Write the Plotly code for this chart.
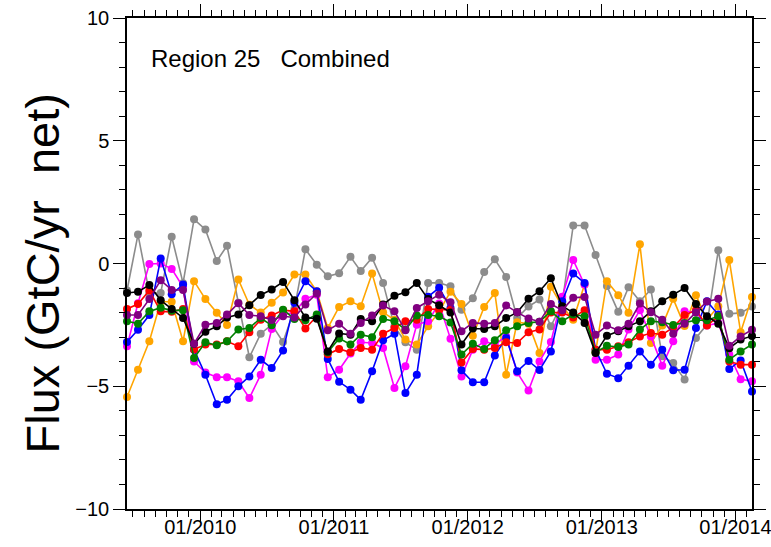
import pandas as pd
import plotly.graph_objects as go

# Monthly net flux, mid-month samples from June 2009 to February 2014
months = pd.date_range("2009-06-01", "2014-02-01", freq="MS") + pd.Timedelta(days=14)

black = [-1.2, -1.15, -0.88, -1.5, -1.85, -2.22, -3.27, -2.78, -2.56, -2.2,
         -2.08, -1.7, -1.28, -1.06, -0.75, -1.5, -2.2, -2.25, -3.58, -2.85,
         -2.9, -2.26, -2.35, -1.67, -1.31, -1.17, -0.79, -1.45, -1.7, -2.0,
         -3.3, -2.65, -2.67, -2.56, -2.22, -1.99, -1.44, -1.13, -0.6, -1.74,
         -2.0, -2.42, -3.65, -2.94, -2.76, -2.56, -2.35, -1.95, -1.54, -1.27,
         -1.0, -1.65, -2.15, -2.45, -3.45, -3.1, -2.95]
red = [-1.85, -1.65, -1.1, -1.95, -1.97, -1.85, -3.5, -3.3, -3.3, -3.17,
       -3.37, -2.8, -2.29, -2.12, -1.9, -1.95, -2.65, -2.15, -3.7, -3.48,
       -3.62, -3.44, -3.51, -2.86, -2.63, -2.35, -2.29, -1.85, -1.88, -1.88,
       -4.03, -3.48, -3.51, -3.44, -3.21, -3.24, -2.8, -2.69, -2.0, -2.0,
       -2.2, -1.9, -3.51, -3.51, -3.37, -3.21, -2.97, -2.83, -2.9, -2.6,
       -2.1, -1.9, -2.53, -2.15, -3.99, -4.12, -4.12]
green = [-2.35, -2.45, -1.95, -1.8, -1.92, -1.9, -3.85, -3.21, -3.33, -3.17,
         -2.69, -2.63, -2.22, -2.52, -1.88, -2.26, -2.31, -2.08, -3.62, -3.05,
         -3.3, -2.9, -3.0, -2.26, -2.35, -2.69, -2.12, -2.1, -2.15, -2.4,
         -3.71, -3.27, -3.48, -3.13, -2.72, -2.56, -2.42, -2.37, -1.95, -2.35,
         -2.08, -2.15, -3.62, -3.35, -3.4, -3.3, -2.69, -2.35, -2.39, -2.5,
         -2.42, -2.31, -2.31, -2.15, -3.92, -3.58, -3.3]
blue = [-3.2, -2.7, -2.1, 0.2, -1.25, -0.86, -3.51, -4.53, -5.73, -5.55,
        -5.0, -4.6, -3.92, -4.26, -3.54, -1.6, -0.72, -1.13, -3.89, -4.82,
        -5.14, -5.55, -4.39, -3.13, -2.86, -5.28, -4.53, -1.35, -0.99, -1.81,
        -4.35, -4.84, -4.84, -3.75, -3.03, -4.39, -3.97, -4.34, -3.58, -1.54,
        -0.41, -0.79, -3.51, -4.49, -4.67, -4.16, -3.58, -4.12, -3.51, -4.35,
        -4.33, -2.63, -1.54, -2.08, -4.3, -3.95, -5.21]
magenta = [-3.37, -1.62, -0.02, 0.0, -0.22, -0.96, -3.99, -4.44, -4.63, -4.63,
           -4.8, -5.48, -4.53, -2.67, -2.08, -2.0, -1.44, -1.27, -4.63, -4.33,
           -3.67, -3.21, -3.24, -3.44, -5.07, -4.19, -2.49, -2.35, -1.63, -3.07,
           -4.6, -3.51, -3.17, -3.3, -2.97, -4.44, -5.17, -3.99, -3.2, -1.35,
           0.14, -0.86, -3.92, -3.92, -3.71, -2.69, -1.9, -2.97, -4.16, -3.17,
           -1.95, -2.0, -2.53, -2.42, -3.71, -4.71, -4.8]
orange = [-5.44, -4.33, -3.17, -1.56, -1.56, -3.17, -0.72, -1.45, -2.01, -2.5,
          -0.65, -1.68, -2.0, -1.6, -1.18, -0.45, -0.45, -1.13, -2.63, -1.77,
          -1.54, -1.74, -0.41, -1.99, -2.29, -3.1, -3.3, -2.56, -1.95, -1.15,
          -1.65, -2.94, -1.77, -1.2, -4.53, -2.39, -2.45, -3.65, -0.95, -1.74,
          -2.29, -0.86, -3.62, -0.72, -1.29, -2.01, 0.78, -3.24, -2.53, -1.44,
          -2.55, -1.29, -2.3, -1.74, 0.14, -2.8, -1.36]
gray = [-1.1, 1.18, -1.2, -1.2, 1.09, -0.8, 1.8, 1.39, 0.1, 0.72,
        -1.6, -3.82, -2.86, -2.49, -3.2, -1.85, 0.58, -0.05, -0.52, -0.4,
        0.27, -0.31, 0.23, -0.79, -2.56, -3.21, -3.51, -0.79, -0.79, -0.93,
        -1.88, -1.42, -0.35, 0.17, -0.55, -2.22, -1.75, -1.47, -2.56, -1.6,
        1.55, 1.55, 0.35, -0.92, -1.97, -0.97, -1.54, -1.06, -3.78, -4.05,
        -4.73, -3.03, -2.49, 0.54, -2.05, -2.01, -1.75]
purple = [-2.1, -2.1, -1.45, -0.68, -1.08, -1.08, -3.27, -2.49, -2.42, -2.08,
          -1.62, -2.1, -2.15, -2.3, -2.15, -2.2, -1.67, -1.22, -2.72, -2.45,
          -2.86, -2.42, -2.12, -1.71, -1.95, -2.72, -1.81, -1.54, -1.27, -1.58,
          -2.76, -2.42, -2.45, -2.42, -1.71, -1.99, -2.24, -2.37, -1.65, -1.9,
          -1.4, -1.36, -2.9, -2.53, -2.72, -2.45, -1.63, -1.99, -2.29, -2.86,
          -2.45, -1.99, -1.55, -1.44, -3.35, -2.97, -2.7]

# drawing order: later series sit on top
series = [
    ("gray", gray, "#8c8c8c"),
    ("orange", orange, "#ffa500"),
    ("magenta", magenta, "#ff00ff"),
    ("blue", blue, "#0000ff"),
    ("red", red, "#ff0000"),
    ("green", green, "#008000"),
    ("black", black, "#000000"),
    ("purple", purple, "#800080"),
]

fig = go.Figure()
for name, vals, col in series:
    fig.add_trace(go.Scatter(
        x=months, y=vals, mode="lines+markers", name=name,
        line=dict(color=col, width=1.6),
        marker=dict(color=col, size=8, symbol="circle"),
        showlegend=False, cliponaxis=False,
    ))

font = "Liberation Sans, Arial, Helvetica, sans-serif"
axis_common = dict(
    showgrid=False, zeroline=False, showline=True, linecolor="black", linewidth=1.5,
    mirror="allticks", ticks="outside", ticklen=12, tickwidth=1.2, tickcolor="black",
    tickfont=dict(family=font, size=20, color="black"), automargin=False,
    ticklabeloverflow="allow",
)
fig.update_xaxes(
    range=[months[0], months[-1]],
    tickmode="linear", tick0="2010-01-01", dtick="M12", tickformat="%m/%Y",
    ticklabelstandoff=-13,
    minor=dict(ticks="outside", ticklen=6, tickwidth=1.2, tickcolor="black", dtick="M1", tick0="2010-01-01"),
    **axis_common,
)
fig.update_yaxes(
    range=[-10, 10], tickmode="linear", tick0=0, dtick=5,
    minor=dict(ticks="outside", ticklen=6, tickwidth=1.2, tickcolor="black", dtick=1, tick0=0),
    **axis_common,
)

fig.add_annotation(
    text="Region 25\u00a0\u00a0\u00a0Combined", xref="paper", yref="paper",
    x=0.035, y=0.918, xanchor="left", yanchor="middle", showarrow=False,
    font=dict(family=font, size=24, color="black"),
)
fig.add_annotation(
    text="Flux (GtC/yr\u00a0 net)", xref="paper", yref="paper",
    x=-0.135, y=0.479, xanchor="center", yanchor="middle", textangle=-90,
    showarrow=False, font=dict(family=font, size=47, color="black"),
)

fig.update_layout(
    width=771, height=547,
    margin=dict(l=127, r=19, t=18, b=38),
    paper_bgcolor="white", plot_bgcolor="white",
)
fig.write_html("out.html")
